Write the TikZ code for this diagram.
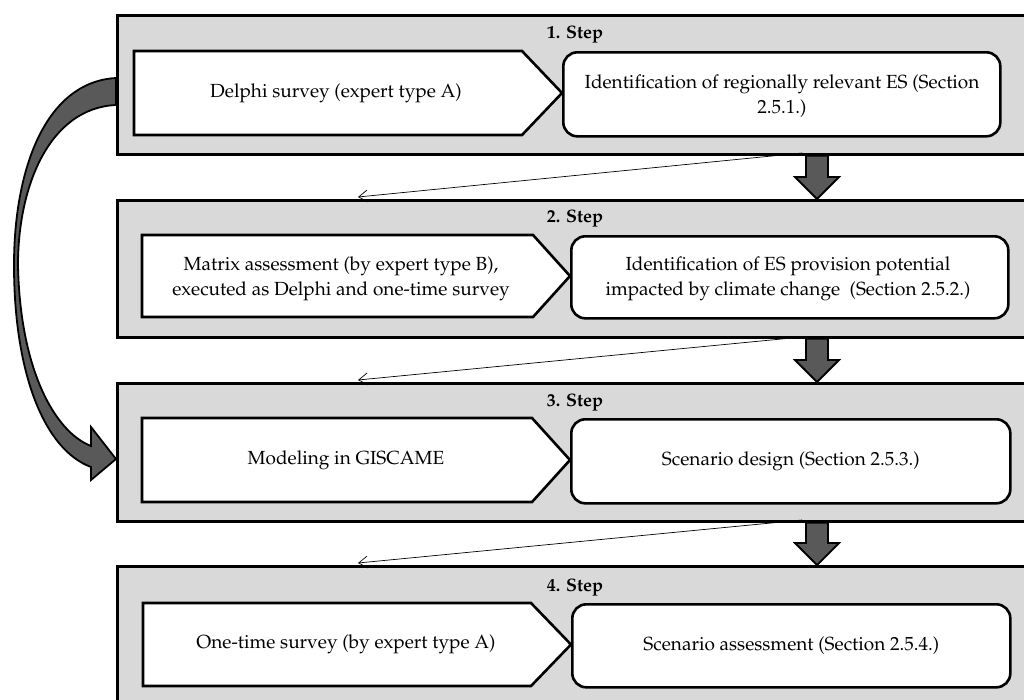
\documentclass[tikz,border=0pt]{standalone}
\usepackage[T1]{fontenc}
\usepackage{mathpazo}
\usetikzlibrary{arrows.meta,calc}
\definecolor{boxgray}{HTML}{D9D9D9}
\definecolor{arrowgray}{HTML}{595959}
\tikzset{
  stepbox/.style={draw=black, fill=boxgray, line width=2.6pt, rectangle, inner sep=0pt, anchor=north west},
  pent/.style={draw=black, fill=white, line width=2.6pt, line join=miter},
  roundbox/.style={draw=black, fill=white, line width=2.6pt, rectangle, rounded corners=14pt, inner sep=0pt, anchor=north west},
  txt/.style={font=\fontsize{19}{25}\selectfont, align=center, inner sep=0pt},
  steplabel/.style={font=\fontsize{18}{20}\selectfont\bfseries, inner sep=0pt},
  blockarrow/.style={draw=black, fill=arrowgray, line width=1.8pt, line join=miter},
  thinarrow/.style={draw=black, line width=0.7pt, -{Straight Barb[length=9pt,width=12pt,line width=0.7pt]}},
  bigarrow/.style={draw=black, fill=arrowgray, line width=1.8pt, line join=miter}
}
\begin{document}
\begin{tikzpicture}[x=1pt,y=-1pt]
\useasboundingbox (0,0) rectangle (1024,699);
\clip (0,0) rectangle (1024,699);

% step boxes
\node[stepbox, minimum width=920pt, minimum height=139pt] (s1) at (116,14) {};
\node[stepbox, minimum width=920pt, minimum height=137pt] (s2) at (116,199) {};
\node[stepbox, minimum width=920pt, minimum height=138pt] (s3) at (116,382) {};
\node[stepbox, minimum width=920pt, minimum height=150pt] (s4) at (116,565) {};

% step labels
\node[steplabel] (l1) at (575,35) {1. Step};
\node[steplabel] (l2) at (575,218) {2. Step};
\node[steplabel] (l3) at (575,402) {3. Step};
\node[steplabel] (l4) at (575,587) {4. Step};

% pentagons
\draw[pent] (134,51) -- (522,51) -- (562,93) -- (522,135) -- (134,135) -- cycle;
\draw[pent] (142,235) -- (533,235) -- (570,276) -- (533,317) -- (142,317) -- cycle;
\draw[pent] (142,418) -- (532,418) -- (570,460) -- (532,502) -- (142,502) -- cycle;
\draw[pent] (143,603) -- (531,603) -- (571,644.5) -- (531,686) -- (143,686) -- cycle;

\node[txt] (p1) at (336,93) {Delphi survey (expert type A)};
\node[txt] (p2) at (341,279) {Matrix assessment (by expert type B),\\executed as Delphi and one-time survey};
\node[txt] (p3) at (346,460) {Modeling in GISCAME};
\node[txt] (p4) at (346,644.5) {One-time survey (by expert type A)};

% rounded boxes
\node[roundbox, minimum width=437pt, minimum height=84pt] (r1) at (562,51) {};
\node[roundbox, minimum width=437pt, minimum height=82pt] (r2) at (570,235) {};
\node[roundbox, minimum width=439pt, minimum height=84pt] (r3) at (570,418) {};
\node[roundbox, minimum width=438pt, minimum height=83pt] (r4) at (571,603) {};

\node[txt] (t1) at (782,96) {Identification of regionally relevant ES (Section\\2.5.1.)};
\node[txt] (t2) at (788,279) {Identification of ES provision potential\\impacted by climate change\ \ (Section 2.5.2.)};
\node[txt] (t3) at (r3.center) {Scenario design (Section 2.5.3.)};
\node[txt] (t4) at (r4.center) {Scenario assessment (Section 2.5.4.)};

% block arrows between steps
\foreach \a/\b in {s1/s2, s2/s3, s3/s4}{
  \path (\a.south west) ++(701,0) coordinate (top);
  \path (\b.north west) ++(701,0) coordinate (tip);
  \draw[blockarrow] ($(top)+(-11,0)$) -- ($(top)+(11,0)$) -- ($(tip)+(11,-22)$) -- ($(tip)+(22,-22)$) -- (tip) -- ($(tip)+(-22,-22)$) -- ($(tip)+(-11,-22)$) -- cycle;
}

% thin arrows
\coordinate (a1s) at (802,153);
\coordinate (a1e) at (358,197);
\coordinate (a2s) at (802,337);
\coordinate (a2e) at (358,380);
\coordinate (a3s) at (802,520);
\coordinate (a3e) at (358,563);
\draw[thinarrow] (a1s) -- (a1e);
\draw[thinarrow] (a2s) -- (a2e);
\draw[thinarrow] (a3s) -- (a3e);

% big curved arrow from step 1 to step 3
\coordinate (cstart) at (116,78);
\coordinate (ctip) at (116,459);
\draw[bigarrow] (cstart) .. controls (45,82) and (14,170) .. (14,265)
  .. controls (14,375) and (45,450) .. (91,467)
  -- (91,480) -- (ctip) -- (91,427) -- (91,446)
  .. controls (55,432) and (20,370) .. (18,265)
  .. controls (18,185) and (50,108) .. (116,105) -- cycle;
\end{tikzpicture}
\end{document}
